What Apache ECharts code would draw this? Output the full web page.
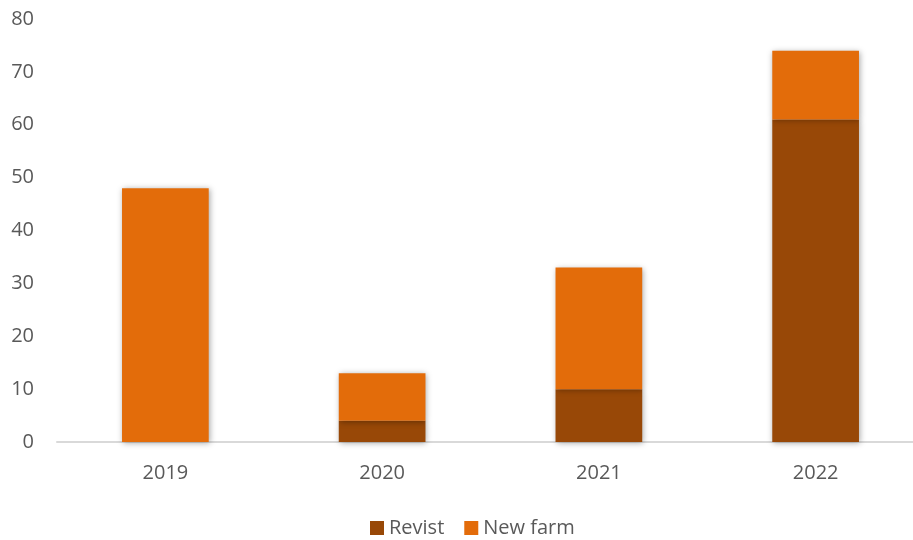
<!DOCTYPE html>
<html>
<head>
<meta charset="utf-8">
<script src="https://cdn.jsdelivr.net/npm/echarts@6/dist/echarts.min.js"></script>
<style>html,body{margin:0;padding:0;background:#fff;overflow:hidden;width:913px;height:540px}#c{width:930px;height:540px}</style>
</head>
<body>
<div id="c"></div>
<script>
const categories = ['2019', '2020', '2021', '2022'];
const revist = [0, 4, 10, 61];
const newFarm = [48, 9, 23, 13];
const yTicks = { min: 0, max: 80, interval: 10 };

const font = '"Open Sans", sans-serif';
const chart = echarts.init(document.getElementById('c'));
const shadow = { shadowBlur: 6, shadowColor: 'rgba(0,0,0,0.35)', shadowOffsetX: 1, shadowOffsetY: 1 };
chart.setOption({
  animation: false,
  grid: { left: 57, width: 867, top: 19, bottom: 98, containLabel: false },
  legend: {
    top: 513, left: 365, itemWidth: 14, itemHeight: 14, itemGap: 20,
    icon: 'rect',
    textStyle: { fontFamily: font, fontSize: 20, color: '#595959' },
    data: ['Revist', 'New farm']
  },
  xAxis: {
    type: 'category', data: categories,
    axisLine: { lineStyle: { color: '#d9d9d9', width: 2 } },
    axisTick: { show: false },
    axisLabel: { fontFamily: font, fontSize: 20, color: '#595959', margin: 21 }
  },
  yAxis: {
    type: 'value', min: yTicks.min, max: yTicks.max, interval: yTicks.interval,
    splitLine: { show: false },
    axisLine: { show: false }, axisTick: { show: false },
    axisLabel: { fontFamily: font, fontSize: 20, color: '#595959', margin: 23 }
  },
  series: [
    { name: 'Revist', type: 'bar', stack: 's', data: revist, barWidth: '40%',
      itemStyle: Object.assign({ color: '#984807' }, shadow) },
    { name: 'New farm', type: 'bar', stack: 's', data: newFarm, barWidth: '40%',
      itemStyle: Object.assign({ color: '#E36C0A' }, shadow) }
  ]
});
</script>
</body>
</html>
